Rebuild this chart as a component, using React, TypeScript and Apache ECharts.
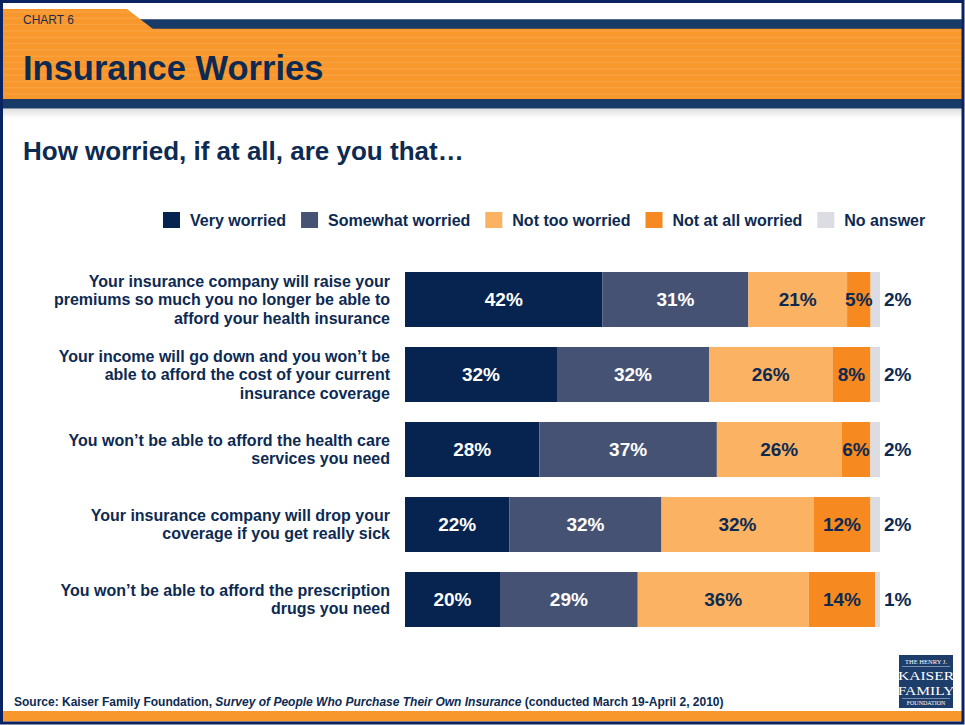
import React, { useEffect, useRef } from "react";
import * as echarts from "echarts";

const categories = [
  "Your insurance company will raise your\npremiums so much you no longer be able to\nafford your health insurance",
  "Your income will go down and you won’t be\nable to afford the cost of your current\ninsurance coverage",
  "You won’t be able to afford the health care\nservices you need",
  "Your insurance company will drop your\ncoverage if you get really sick",
  "You won’t be able to afford the prescription\ndrugs you need",
];
const seriesNames = ["Very worried", "Somewhat worried", "Not too worried", "Not at all worried", "No answer"];
const veryWorried = [42, 32, 28, 22, 20];
const somewhatWorried = [31, 32, 37, 32, 29];
const notTooWorried = [21, 26, 26, 32, 36];
const notAtAllWorried = [5, 8, 6, 12, 14];
const noAnswer = [2, 2, 2, 2, 1];

const NAVY = "#0d2a52";
const FONT = "'Liberation Sans', Arial, sans-serif";
const SERIF = "'Liberation Serif', serif";
const colors = ["#06244f", "#465273", "#fbb262", "#f6891f", "#dcdce3"];
const labelColors = ["#ffffff", "#ffffff", NAVY, NAVY, NAVY];

export default function App() {
  const ref = useRef<HTMLDivElement>(null);
  useEffect(() => {
    document.body.style.margin = "0";
    if (!ref.current) return;
    const chart = echarts.init(ref.current, undefined, { renderer: "svg" });
    const raw = [veryWorried, somewhatWorried, notTooWorried, notAtAllWorried, noAnswer];
    const totals = categories.map((_, i) => raw.reduce((s, arr) => s + arr[i], 0));

    const stripes: any[] = [];
    for (let y = 31; y < 98; y += 6.3) {
      stripes.push({
        type: "line",
        shape: { x1: 3, y1: y, x2: 962, y2: y },
        style: { stroke: "rgba(255,255,255,0.1)", lineWidth: 1.5 },
        z: 2,
        silent: true,
      });
    }
    for (let y = 12; y < 28; y += 6.3) {
      stripes.push({
        type: "line",
        shape: { x1: 3, y1: y, x2: 127 + ((y - 9) / 19.7) * 26, y2: y },
        style: { stroke: "rgba(255,255,255,0.1)", lineWidth: 1.5 },
        z: 2,
        silent: true,
      });
    }

    const series = raw.map((arr, si) => ({
      name: seriesNames[si],
      type: "bar",
      stack: "total",
      barWidth: 55,
      data: arr.map((v, i) => (v / totals[i]) * 100),
      itemStyle: { color: colors[si] },
      label: {
        show: true,
        position: si === 4 ? "right" : "inside",
        distance: 4,
        formatter: (p: any) => raw[si][p.dataIndex] + "%",
        color: labelColors[si],
        fontFamily: FONT,
        fontWeight: "bold",
        fontSize: 19,
      },
    }));

    chart.setOption({
      animation: false,
      legend: {
        data: seriesNames,
        left: 158,
        top: 207,
        icon: "rect",
        itemWidth: 17,
        itemHeight: 16,
        itemGap: 15,
        textStyle: {
          color: NAVY,
          fontFamily: FONT,
          fontWeight: "bold",
          fontSize: 16,
          padding: [0, 0, 0, 5],
        },
        selectedMode: false,
      },
      grid: { left: 405, right: 85, top: 262, bottom: 88, containLabel: false },
      xAxis: { type: "value", min: 0, max: 100, show: false },
      yAxis: {
        type: "category",
        data: categories,
        inverse: true,
        axisLine: { show: false },
        axisTick: { show: false },
        axisLabel: {
          color: NAVY,
          fontFamily: FONT,
          fontWeight: "bold",
          fontSize: 16,
          lineHeight: 18.5,
          margin: 15,
          align: "right",
        },
      },
      series,
      graphic: [
        { type: "rect", shape: { x: 130, y: 19.3, width: 832, height: 9.7 }, style: { fill: "#173a66" }, z: 1 },
        { type: "polygon", shape: { points: [[3, 9], [127, 9], [153, 29], [3, 29]] }, style: { fill: "#f8972b" }, z: 1 },
        { type: "rect", shape: { x: 3, y: 28.7, width: 959, height: 70.6 }, style: { fill: "#f8972b" }, z: 1 },
        ...stripes,
        { type: "rect", shape: { x: 3, y: 99, width: 959, height: 9.5 }, style: { fill: "#173a66" }, z: 3 },
        {
          type: "rect",
          shape: { x: 3, y: 108.5, width: 959, height: 10 },
          style: {
            fill: new echarts.graphic.LinearGradient(0, 0, 0, 1, [
              { offset: 0, color: "rgba(0,0,0,0.13)" },
              { offset: 1, color: "rgba(0,0,0,0)" },
            ]),
          },
          z: 3,
        },
        {
          type: "text",
          x: 23,
          y: 20,
          style: { text: "CHART 6", fill: "#1a2d50", font: "12px " + FONT, verticalAlign: "middle" },
          z: 4,
        },
        {
          type: "text",
          x: 23,
          y: 68,
          style: { text: "Insurance Worries", fill: NAVY, font: "bold 34.5px " + FONT, verticalAlign: "middle" },
          z: 4,
        },
        {
          type: "text",
          x: 23,
          y: 151,
          style: { text: "How worried, if at all, are you that…", fill: NAVY, font: "bold 26px " + FONT, verticalAlign: "middle" },
          z: 4,
        },
        {
          type: "text",
          x: 14,
          y: 702,
          style: {
            text: "{b|Source: Kaiser Family Foundation, }{i|Survey of People Who Purchase Their Own Insurance}{b| (conducted March 19-April 2, 2010)}",
            verticalAlign: "middle",
            rich: {
              b: { fill: NAVY, font: "bold 12px " + FONT },
              i: { fill: NAVY, font: "italic bold 12px " + FONT },
            },
          },
          z: 4,
        },
        { type: "rect", shape: { x: 899, y: 655, width: 54, height: 53 }, style: { fill: "#1d3d6b" }, z: 4 },
        {
          type: "text",
          x: 926,
          y: 661,
          style: { text: "THE HENRY J.", fill: "#ffffff", font: "6.5px " + SERIF, align: "center", verticalAlign: "middle" },
          z: 5,
        },
        { type: "line", shape: { x1: 902, y1: 666.5, x2: 950, y2: 666.5 }, style: { stroke: "rgba(255,255,255,0.7)", lineWidth: 0.6 }, z: 5 },
        {
          type: "text",
          x: 926,
          y: 675,
          scaleX: 1.15,
          style: { text: "KAISER", fill: "#ffffff", font: "13.5px " + SERIF, align: "center", verticalAlign: "middle" },
          z: 5,
        },
        {
          type: "text",
          x: 926,
          y: 690,
          scaleX: 1.15,
          style: { text: "FAMILY", fill: "#ffffff", font: "13.5px " + SERIF, align: "center", verticalAlign: "middle" },
          z: 5,
        },
        { type: "line", shape: { x1: 902, y1: 698.5, x2: 950, y2: 698.5 }, style: { stroke: "rgba(255,255,255,0.7)", lineWidth: 0.6 }, z: 5 },
        {
          type: "text",
          x: 926,
          y: 703,
          style: { text: "FOUNDATION", fill: "#ffffff", font: "6px " + SERIF, align: "center", verticalAlign: "middle" },
          z: 5,
        },
        { type: "rect", shape: { x: 3, y: 711, width: 959, height: 10.5 }, style: { fill: "#f8972b" }, z: 4 },
        {
          type: "rect",
          shape: { x: 1.5, y: 1.5, width: 961.5, height: 721.5 },
          style: { fill: "none", stroke: "#0a2463", lineWidth: 3 },
          z: 10,
          silent: true,
        },
      ],
    });
    return () => chart.dispose();
  }, []);
  return <div ref={ref} style={{ width: 965, height: 725 }} />;
}
